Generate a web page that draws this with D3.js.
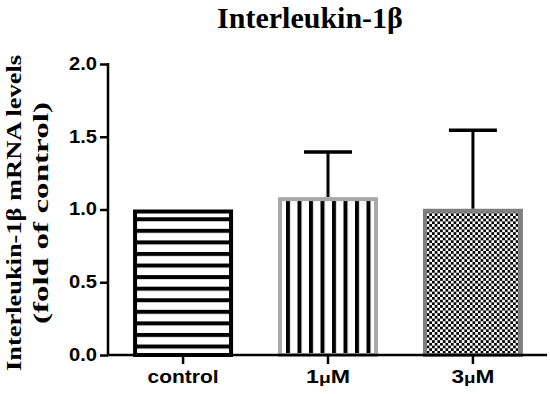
<!DOCTYPE html>
<html><head><meta charset="utf-8">
<script src="https://cdn.jsdelivr.net/npm/d3@7"></script>
<style>body{margin:0;background:#fff}svg{display:block}</style>
</head><body>
<svg id="c" width="550" height="394"></svg>
<script>
const categories = ["control", "1μM", "3μM"];
const means = [1.0, 1.085, 1.005];
const errUpper = [1.0, 1.395, 1.545];
const yTicks = [0, 0.5, 1.0, 1.5, 2.0];
const patterns = ["hstripe", "vstripe", "checker"];
const strokes = ["#000", "#a8a8a8", "#7f7f7f"];

const svg = d3.select("#c");
const m = {left: 108, right: 547, top: 63, bottom: 355};
const y = d3.scaleLinear().domain([0, 2]).range([m.bottom, m.top + 1]);
const x = d3.scaleBand().domain(categories).range([m.left + 1, m.right]).paddingInner(0.31).paddingOuter(0.166);

const defs = svg.append("defs");
const ph = defs.append("pattern").attr("id", "hstripe").attr("patternUnits", "userSpaceOnUse")
  .attr("width", 10).attr("height", 11.57).attr("y", 9);
ph.append("rect").attr("width", 10).attr("height", 11.57).attr("fill", "#fff");
ph.append("rect").attr("y", 0).attr("width", 10).attr("height", 4).attr("fill", "#000");
const pv = defs.append("pattern").attr("id", "vstripe").attr("patternUnits", "userSpaceOnUse")
  .attr("width", 11.5).attr("height", 10).attr("x", 10);
pv.append("rect").attr("width", 11.5).attr("height", 10).attr("fill", "#fff");
pv.append("rect").attr("x", 0).attr("width", 4).attr("height", 10).attr("fill", "#000");
const pc = defs.append("pattern").attr("id", "checker").attr("patternUnits", "userSpaceOnUse")
  .attr("width", 5.4).attr("height", 5.4);
pc.append("rect").attr("width", 5.4).attr("height", 5.4).attr("fill", "#fff");
pc.append("rect").attr("width", 2.7).attr("height", 2.7).attr("fill", "#000");
pc.append("rect").attr("x", 2.7).attr("y", 2.7).attr("width", 2.7).attr("height", 2.7).attr("fill", "#000");

// error bars (only where there is a visible upper error)
categories.forEach((c, i) => {
  if (errUpper[i] <= means[i]) return;
  const cx = x(c) + x.bandwidth() / 2;
  svg.append("line").attr("x1", cx).attr("x2", cx).attr("y1", y(means[i])).attr("y2", y(errUpper[i]))
    .attr("stroke", "#000").attr("stroke-width", 3);
  svg.append("line").attr("x1", cx - 24).attr("x2", cx + 24).attr("y1", y(errUpper[i])).attr("y2", y(errUpper[i]))
    .attr("stroke", "#000").attr("stroke-width", 3.5);
});

// bars
svg.selectAll("rect.bar").data(categories).join("rect").attr("class", "bar")
  .attr("x", d => x(d) + 2).attr("width", x.bandwidth() - 4)
  .attr("y", (d, i) => y(means[i]) + 2).attr("height", (d, i) => y(0) - y(means[i]) - 2)
  .attr("fill", (d, i) => `url(#${patterns[i]})`)
  .attr("stroke", (d, i) => strokes[i]).attr("stroke-width", 4);

// axes
const yAxis = svg.append("g").attr("transform", `translate(${m.left},0)`)
  .call(d3.axisLeft(y).tickValues(yTicks).tickFormat(d3.format(".1f")).tickSize(8).tickSizeOuter(0));
const xAxis = svg.append("g").attr("transform", `translate(0,${m.bottom})`)
  .call(d3.axisBottom(x).tickSize(9).tickSizeOuter(0).tickFormat(() => ""));
[yAxis, xAxis].forEach(g => {
  g.select(".domain").attr("stroke", "#000").attr("stroke-width", 2.5);
  g.selectAll(".tick line").attr("stroke", "#000").attr("stroke-width", 2.5);
});
yAxis.select(".domain").attr("d", `M0,${m.top}V${m.bottom + 1}`);
xAxis.select(".domain").attr("d", `M${-1 + m.left},0H${m.right}`);
yAxis.selectAll(".tick text").attr("font-family", "Liberation Sans, Arial, sans-serif")
  .attr("font-weight", "bold").attr("font-size", 18).attr("fill", "#000").attr("x", -11).attr("dy", "0.3em")
  .attr("textLength", 28).attr("lengthAdjust", "spacingAndGlyphs");

// x labels
const xLabelLen = {"control": 71, "1μM": 44, "3μM": 43};
xAxis.selectAll(".tick").each(function(d) {
  const t = d3.select(this).append("text").attr("y", 28).attr("text-anchor", "middle")
    .attr("font-family", "Liberation Sans, Arial, sans-serif").attr("font-weight", "bold")
    .attr("font-size", 18).attr("fill", "#000")
    .attr("textLength", xLabelLen[d]).attr("lengthAdjust", "spacingAndGlyphs");
  if (d.includes("μ")) {
    const parts = d.split("μ");
    t.append("tspan").text(parts[0]);
    t.append("tspan").attr("font-size", 15).text("μ");
    t.append("tspan").text(parts[1]);
  } else t.text(d);
});

// title
svg.append("text").attr("x", 310).attr("y", 28).attr("text-anchor", "middle")
  .attr("font-family", "Liberation Serif, Times New Roman, serif").attr("font-weight", "bold")
  .attr("font-size", 30).attr("fill", "#000").text("Interleukin-1β");

// y label
const yl = svg.append("text").attr("transform", "translate(0,213) rotate(-90)").attr("text-anchor", "middle")
  .attr("font-family", "Liberation Serif, Times New Roman, serif").attr("font-weight", "bold")
  .attr("font-size", 20).attr("fill", "#000");
yl.append("tspan").attr("x", 0).attr("y", 21).attr("textLength", 316).attr("lengthAdjust", "spacingAndGlyphs")
  .text("Interleukin-1β  mRNA levels");
yl.append("tspan").attr("x", 0).attr("y", 48).attr("textLength", 222).attr("lengthAdjust", "spacingAndGlyphs")
  .text("(fold of control)");
</script>
</body></html>
